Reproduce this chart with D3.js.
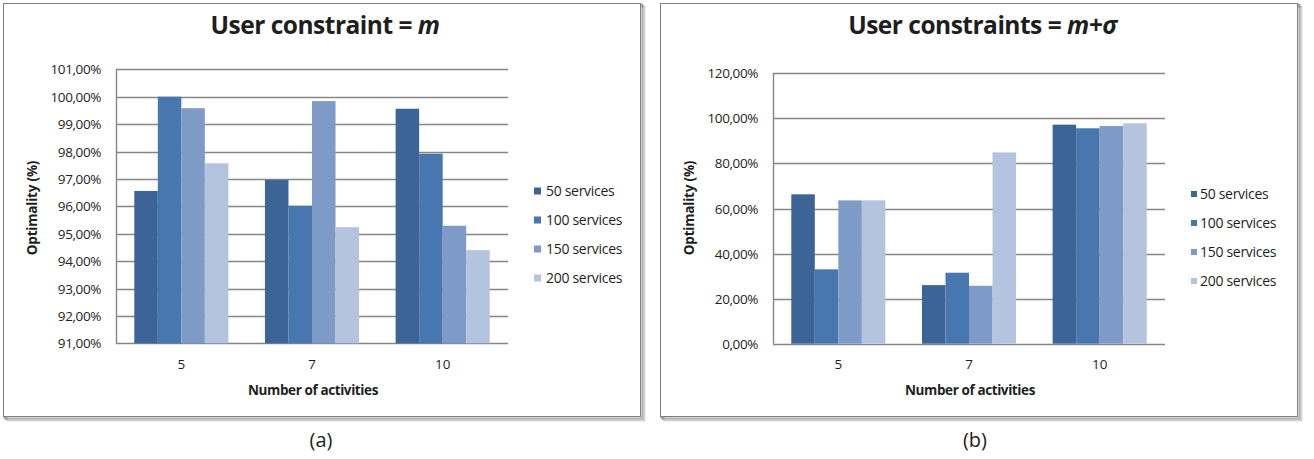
<!DOCTYPE html>
<html>
<head>
<meta charset="utf-8">
<script src="https://cdn.jsdelivr.net/npm/d3@7"></script>
<style>
  body { margin: 0; background: #fff; }
  svg text { font-family: "Open Sans", Lato, sans-serif; fill: #1e1e1e; }
</style>
</head>
<body>
<svg id="chart" width="1314" height="459"></svg>
<script>
// categories and series
var activities = ["5", "7", "10"];
var seriesNames = ["50 services", "100 services", "150 services", "200 services"];
var seriesColors = ["#3c6496", "#4877b0", "#7e9bc8", "#b5c4de"];

// panel (a) values, % (rows = series, cols = activities)
var valuesA = [
    [96.56, 96.96, 99.56],
    [100.0, 96.02, 97.92],
    [99.58, 99.84, 95.29],
    [97.57, 95.24, 94.40]
];
var ticksA = [91, 92, 93, 94, 95, 96, 97, 98, 99, 100, 101];

// panel (b) values, %
var valuesB = [
    [66.3, 26.0, 97.2],
    [33.0, 31.5, 95.6],
    [63.6, 25.7, 96.6],
    [63.6, 84.9, 97.8]
];
var ticksB = [0, 20, 40, 60, 80, 100, 120];

var svg = d3.select("#chart");
var fmt = function (v) { return d3.format(".2f")(v).replace(".", ",") + "%"; };

function drawPanel(p) {
    var g = svg.append("g").attr("transform", "translate(" + p.dx + ",0)");

    // frame with a soft shadow
    [4, 3, 2, 1].forEach(function (o) {
        g.append("rect").attr("x", 3 + o).attr("y", 3 + o)
            .attr("width", 638).attr("height", 414)
            .attr("fill", "none").attr("stroke", "#000").attr("stroke-opacity", 0.12 + (4 - o) * 0.06)
            .attr("stroke-width", 1.2);
    });
    g.append("rect").attr("x", 3.5).attr("y", 3.5).attr("width", 637).attr("height", 413)
        .attr("fill", "#fff").attr("stroke", "#7f7f7f").attr("stroke-width", 1);

    var y = d3.scaleLinear().domain(p.domain).range([p.y0, p.y1]);
    var x0 = d3.scaleBand().domain(activities).range([116, 508]).paddingInner(0.28).paddingOuter(0.14);
    var x1 = d3.scaleBand().domain(d3.range(seriesNames.length)).range([0, x0.bandwidth()]);

    // gridlines
    g.append("g").selectAll("line").data(p.ticks).join("line")
        .attr("x1", 116).attr("x2", 508)
        .attr("y1", function (d) { return Math.round(y(d)) + 0.5; })
        .attr("y2", function (d) { return Math.round(y(d)) + 0.5; })
        .attr("stroke", "#868686").attr("stroke-width", 1.4);

    // bars
    activities.forEach(function (act, j) {
        g.append("g").selectAll("rect").data(p.values).join("rect")
            .attr("x", function (d, i) { return x0(act) + x1(i); })
            .attr("width", x1.bandwidth())
            .attr("y", function (d) { return y(d[j]); })
            .attr("height", function (d) { return y(p.domain[0]) - y(d[j]); })
            .attr("fill", function (d, i) { return seriesColors[i]; });
    });

    // y axis line
    g.append("line").attr("x1", 116.5).attr("x2", 116.5).attr("y1", y(p.domain[1])).attr("y2", y(p.domain[0]))
        .attr("stroke", "#868686").attr("stroke-width", 1.4);

    // y tick labels
    g.append("g").selectAll("text").data(p.ticks).join("text")
        .attr("x", 101).attr("y", function (d) { return y(d) + 5; })
        .attr("text-anchor", "end").attr("font-size", 13.5).style("letter-spacing", "-0.4px")
        .text(fmt);

    // x labels
    g.append("g").selectAll("text").data(activities).join("text")
        .attr("x", function (d) { return x0(d) + x0.bandwidth() / 2; })
        .attr("y", 369).attr("text-anchor", "middle").attr("font-size", 13.5)
        .text(function (d) { return d; });

    g.append("text").attr("x", 313).attr("y", 395).attr("text-anchor", "middle")
        .attr("font-size", 13.5).attr("font-weight", "bold").style("letter-spacing", "-0.4px")
        .text("Number of activities");

    g.append("text").attr("transform", "translate(37,208) rotate(-90)")
        .attr("text-anchor", "middle").attr("font-size", 13.5).attr("font-weight", "bold")
        .style("letter-spacing", "-0.2px")
        .text("Optimality (%)");

    // title
    var t = g.append("text").attr("x", p.titleX).attr("y", 34).attr("text-anchor", "middle")
        .attr("font-size", 24.5).attr("font-weight", "bold").style("letter-spacing", "-0.5px");
    t.append("tspan").text(p.title);
    t.append("tspan").attr("font-style", "italic").text(p.titleItalic);

    // legend
    var lg = g.append("g").selectAll("g").data(seriesNames).join("g")
        .attr("transform", function (d, i) { return "translate(" + p.legX + "," + (p.legY + i * 29) + ")"; });
    lg.append("rect").attr("x", 0).attr("y", -p.legBox / 2).attr("width", p.legBox).attr("height", p.legBox)
        .attr("fill", function (d, i) { return seriesColors[i]; });
    lg.append("text").attr("x", p.legTextDx).attr("y", 5).attr("font-size", 14).style("letter-spacing", "-0.3px")
        .text(function (d) { return d; });

    // sub caption
    g.append("text").attr("x", p.capX).attr("y", 447).attr("text-anchor", "middle")
        .attr("font-size", 20).text(p.caption);
}

drawPanel({
    dx: 0, values: valuesA, ticks: ticksA, domain: [91, 101], y0: 343.3, y1: 69.3,
    title: "User constraint = ", titleItalic: "m", titleX: 325,
    legX: 534, legY: 191, legBox: 7, legTextDx: 12, caption: "(a)", capX: 321
});
drawPanel({
    dx: 657, values: valuesB, ticks: ticksB, domain: [0, 120], y0: 343.7, y1: 73.3,
    title: "User constraints = ", titleItalic: "m+\u03c3", titleX: 325.5,
    legX: 534, legY: 194, legBox: 6, legTextDx: 9, caption: "(b)", capX: 318
});
</script>
</body>
</html>
